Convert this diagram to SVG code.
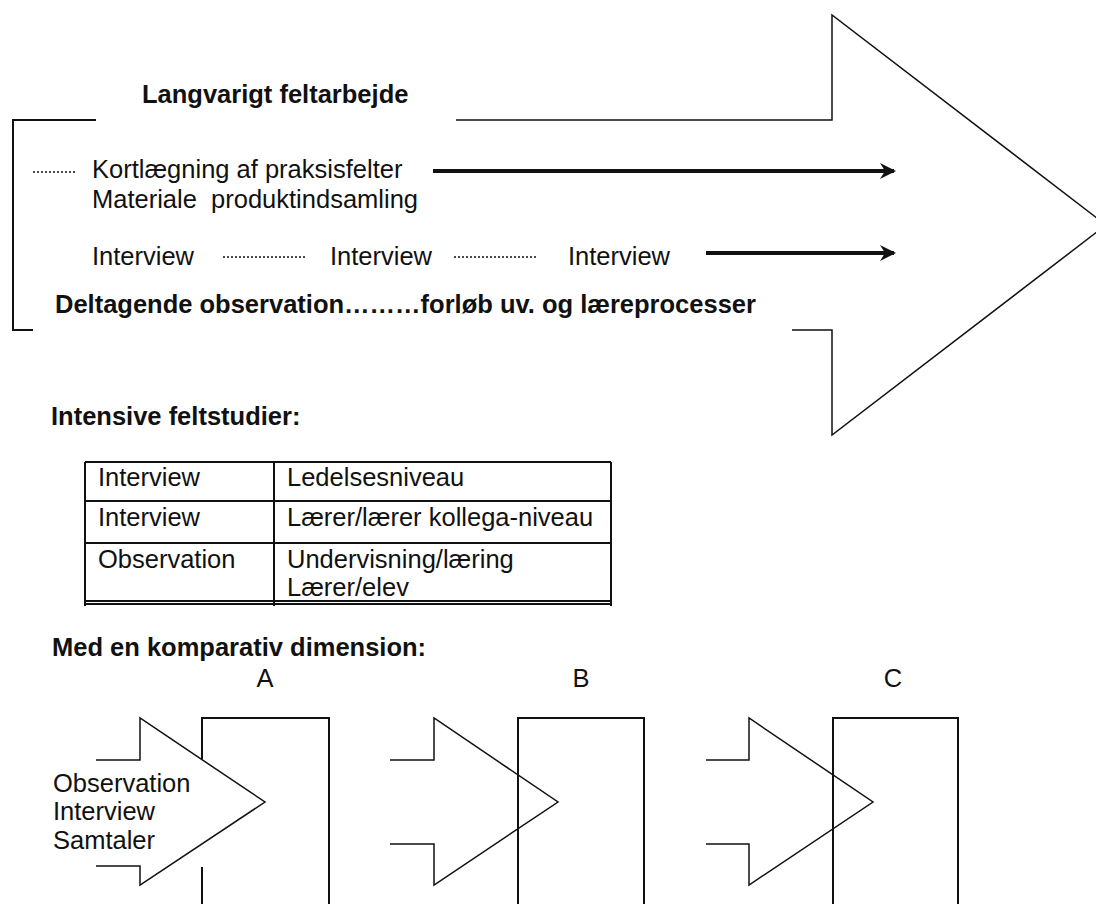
<svg xmlns="http://www.w3.org/2000/svg" width="1096" height="904" viewBox="0 0 1096 904">
<defs>
<style>
text{font-family:"Liberation Sans",Arial,sans-serif;font-size:25.5px;fill:#111}
.b{font-weight:bold}
.ln{fill:none;stroke:#111;stroke-width:2}
.thin{fill:none;stroke:#111;stroke-width:1.5}
.dot{fill:none;stroke:#111;stroke-width:1.5;stroke-dasharray:2,2}
.thick{fill:none;stroke:#111;stroke-width:4}
</style>
<marker id="ah" viewBox="0 0 18 18" refX="16" refY="9" markerWidth="18" markerHeight="18" markerUnits="userSpaceOnUse" orient="auto">
<path d="M2,1 L18,9 L2,17 L7,9 Z" fill="#111"/>
</marker>
</defs>
<rect width="1096" height="904" fill="#fff"/>

<g id="big-arrow">
<path class="ln" d="M96,120 H13 V330 H33"/>
<path class="thin" d="M456,120 H832 V15 L1106,225 L832,435 V330 H792"/>
<text class="b" x="142" y="103">Langvarigt feltarbejde</text>
</g>

<g id="field-items">
<text x="92" y="178">Kortlægning af praksisfelter</text>
<text x="92" y="208" xml:space="preserve">Materiale  produktindsamling</text>
<text x="92" y="265">Interview</text>
<text x="330" y="265">Interview</text>
<text x="568" y="265">Interview</text>
<text class="b" x="55" y="313">Deltagende observation………forløb uv. og læreprocesser</text>
</g>

<g id="connectors">
<line class="dot" x1="33" y1="172" x2="75" y2="172"/>
<line class="dot" x1="223" y1="257" x2="306" y2="257"/>
<line class="dot" x1="454" y1="257" x2="538" y2="257"/>
<line class="thick" x1="433" y1="171" x2="894" y2="171" marker-end="url(#ah)"/>
<line class="thick" x1="706" y1="253" x2="894" y2="253" marker-end="url(#ah)"/>
</g>

<g id="intensive">
<text class="b" x="51" y="425">Intensive feltstudier:</text>
<g id="table">
<path class="ln" d="M85,462 H611 M85,501 H611 M85,543 H611 M85,601 H611 M85,604 H611 M85,462 V606 M274,462 V606 M611,462 V606"/>
<text x="98" y="486">Interview</text>
<text x="287" y="486">Ledelsesniveau</text>
<text x="98" y="526">Interview</text>
<text x="287" y="526">Lærer/lærer kollega-niveau</text>
<text x="98" y="568">Observation</text>
<text x="287" y="568">Undervisning/læring</text>
<text x="287" y="596">Lærer/elev</text>
</g>
</g>

<g id="comparative">
<text class="b" x="52" y="656">Med en komparativ dimension:</text>
<text x="265" y="687" text-anchor="middle">A</text>
<text x="581" y="687" text-anchor="middle">B</text>
<text x="893" y="687" text-anchor="middle">C</text>
</g>

<g id="case-a">
<path class="ln" d="M202,904 V867 M202,759 V718 H329 V904"/>
<path class="thin" d="M96,760 H140 V718 L265,802 L140,885 V866 H96"/>
<text x="53" y="792">Observation</text>
<text x="53" y="820">Interview</text>
<text x="53" y="849">Samtaler</text>
</g>
<g id="case-b">
<path class="ln" d="M518,904 V718 H644 V904"/>
<path class="thin" d="M390,760 H434 V718 L558,802 L434,885 V844 H390"/>
</g>
<g id="case-c">
<path class="ln" d="M833,904 V718 H958 V904"/>
<path class="thin" d="M706,760 H749 V718 L873,802 L749,885 V844 H706"/>
</g>
</svg>
